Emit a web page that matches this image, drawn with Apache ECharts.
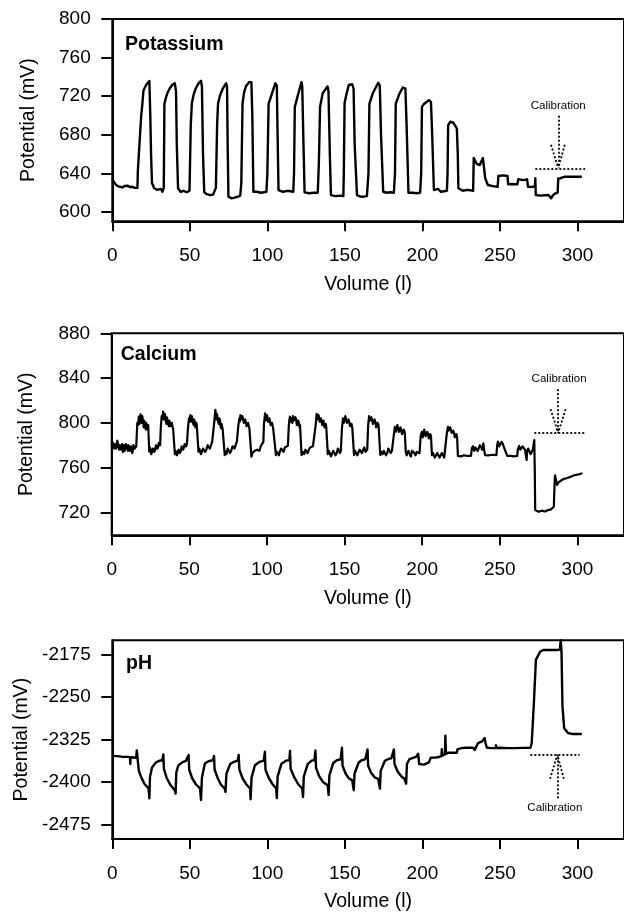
<!DOCTYPE html>
<html>
<head>
<meta charset="utf-8">
<script src="https://cdn.jsdelivr.net/npm/echarts@6/dist/echarts.min.js"></script>
<style>
html,body{margin:0;padding:0;background:#fff;}
#chart{width:624px;height:913px;}
</style>
</head>
<body>
<div id="chart"></div>
<script>
// ---------------- DATA ----------------
const xTickValues = [0, 50, 100, 150, 200, 250, 300];
const potassiumTicks = [600, 640, 680, 720, 760, 800];
const calciumTicks = [720, 760, 800, 840, 880];
const phTicks = [-2475, -2400, -2325, -2250, -2175];

const panelNames = ['Potassium', 'Calcium', 'pH'];
const axisTitleX = 'Volume (l)';
const axisTitleY = 'Potential (mV)';
const calibrationText = 'Calibration';

// Potassium trace [volume, potential]
const potassiumData = [
[0,635],[1,631],[2.5,628],[4,626.5],[5,627.5],[6.5,625.5],[7.8,627],[9,626],[10,627.2],[11.5,625.8],[13,626.2],[14.3,625],[15.2,623.5],[16.2,625],
[16.5,643],[17.5,670],[18.6,699],[19.4,712],[20.1,726],[21.8,731.6],[23,733],[23.9,735.8],[24.3,734],[24.5,700],[25,660],[25.6,630],[27,624.6],[29,623],[31.3,624],[32.3,621],
[33.2,625],[33.6,712],[34.5,718],[35.5,723],[37,728],[38.6,731.6],[40.3,733.4],[41.1,725],[41.6,670],[42.4,624.6],[44,621],[46,622],[48,620.5],[49.2,621],
[49.8,622],[50.6,690],[51.3,712.6],[52.5,722],[53.8,728],[55.5,733],[57.2,736],[57.8,730],[58.5,660],[59.3,620.4],[61,618.5],[63,617.6],[65,618],[66.1,617.6],
[66.8,625],[67.6,690],[68.2,712.6],[69.5,721],[71.3,728],[73.4,733.4],[74,730],[74.4,670],[74.9,615.9],[77,614.2],[79,615],[81,616],[82.5,617],
[83.2,630],[84,712.6],[85,724],[86.1,730],[88.2,734.6],[89.7,734.6],[90.3,700],[91,621],[93,621],[96,620],[99.4,621],
[100,640],[100.8,712],[103,723],[105.1,733.4],[106.1,731],[106.6,680],[107.2,622.8],[110,621],[113,622],[116.7,621],
[117.2,640],[117.7,709],[119.5,720],[122,734.6],[122.5,730],[123.3,670],[124,620.4],[127,619.5],[130,620],[132.5,620],
[133.2,650],[134,709],[135.7,723],[138.8,730],[139.4,726],[140.3,660],[141,617.6],[144,616.5],[147,617],[149,616.5],
[149.3,640],[149.8,712.6],[151,722],[152.5,731.6],[154.7,732.5],[155.6,728],[156.3,670],[157.8,617.6],[160,616],[162,615.9],[164.2,616.5],
[165.2,640],[165.8,712],[168,723],[171.5,734],[172.5,731],[173.3,680],[174.7,621],[177,620],[179,620.5],[181.6,620],
[182.3,640],[182.8,712],[185,722],[187.3,729],[189,728.2],[189.8,690],[191,620],[194,620],[196,619.5],[198.5,620],
[199.2,640],[199.7,709],[201,712],[204.2,716],[205.5,714],[206.3,680],[207.4,622.8],[210,624],[212,621],[215.8,622],
[216.2,640],[216.6,690],[218,693.6],[220,692.5],[222.2,686.7],[222.8,660],[223.2,624.6],[226,622.1],[229,623],[232.7,622],
[233.1,656],[235,650],[237,648.7],[238,649],[239,656],[239.5,649],[240.5,635],[242.2,628],[245,627],[248.5,626],
[249,637.3],[252,638],[254.9,637.3],[255.3,628.7],[258,629],[261.2,628.7],[261.8,634],[265,633],[267.5,633.9],[268.1,626.2],[271,626],[272.6,627],
[272.8,635],[273.1,617.6],[276,617],[281.3,617.6],[283,614.2],[284,617],[285.4,619],[287.2,620],[287.6,634.9],[289,635],[291.8,636.6],[296,636.6],[302.8,636.6]
];

// Calcium trace [volume, potential]
const calciumData = [
[0,780],[0.5,783],[0.8,784],[1.2,779],[1.6,777],[2,781],[2.4,782],[2.8,777],[3.2,778],[3.6,784],[4,783],[4.4,778],[4.8,776],[5.2,780],[5.6,781],[6,776],[6.4,779],[6.8,781],[7.2,774],[7.6,778],[8,780],[8.4,775],[8.8,776],[9.2,781],[9.6,782],[10,777],[10.4,775],[10.8,780],[11.2,779],[11.6,775],[12,774],[12.4,779],[12.8,778],[13.2,773],[13.6,775],[14,780],[14.4,781],[14.8,777],[15.2,776],[15.8,779],
[16.5,800],[17,798],[17.5,805.5],[17.9,799],[18.2,802],[18.6,807.6],[19,802],[19.3,800],[19.7,806],[20,805],[20.4,799],[20.7,796],[21,802],[21.3,803],[21.7,797],[22,794],[22.3,800],[22.6,799],[22.9,795],[23.2,793.6],[23.5,798],[23.8,797],[24.2,774.2],[24.6,778],[25,776],[25.5,772],[26,773],[26.5,777],[27,778],[27.5,774],[28,776],[28.5,780],[29,781],[29.5,777],[30,779],[30.3,782],[30.6,783],[31.2,780],
[31.6,795],[32.2,806],[32.6,803],[33.1,810],[33.5,805],[33.8,803],[34.2,808],[34.5,806],[34.9,801],[35.3,799],[35.6,805],[36,804],[36.4,799],[36.8,797],[37.1,802],[37.5,801],[37.9,797],[38.3,796],[38.7,800],[39.2,799],[39.6,794],[40,795],[40.7,771.9],[41.1,775],[41.5,774],[42,771],[42.5,773],[43,776],[43.5,777],[44,773],[44.5,775],[45,779],[45.5,779],[46,776],[46.5,778],[47,781],[47.5,782],[48,779],[48.5,781.7],
[49.1,795],[49.8,804],[50.2,801],[50.6,807],[51,803],[51.3,801],[51.6,806],[52,805],[52.4,800],[52.8,798],[53.1,803],[53.5,801],[53.9,796],[54.2,797],[54.5,800],[54.8,798],[55.9,774.2],[56.4,777],[57,776],[57.5,772],[58,773],[58.8,777],[59.5,777],[60.2,774],[61,776],[61.8,780],[62.5,779],[63.2,777],[64,780],[64.7,783],[65.4,782.3],
[66,800],[66.4,806],[66.8,811.5],[67.1,805],[67.5,803],[67.8,808],[68.2,807],[68.6,801],[69,799],[69.4,804],[69.8,802],[70.1,797],[70.5,795],[70.8,799],[71.2,798],[71.5,794],[71.7,793.6],[72.8,771.2],[73.4,774],[74,772],[74.7,777],[75.5,776],[76.2,773],[77,775],[77.8,779],[78.5,779],[79.2,777],[80,781],[80.6,783],[81.2,784.6],
[81.6,798],[82.2,804],[82.5,801],[82.9,807],[83.3,803],[83.8,802],[84.2,806],[84.7,805],[85.1,800],[85.6,799],[86,803],[86.5,802],[86.9,797],[87.4,797],[87.8,800],[88.3,799],[88.7,795],[89.2,795],[90,769.7],[90.7,773],[91.5,772],[92.2,775],[93,774],[93.7,776],[94.5,777],[95.2,775],[96,779],[96.8,781],[97.7,783],
[98.1,800],[98.5,804],[98.8,808.5],[99.2,802],[99.6,803],[100,807],[100.4,806],[100.8,801],[101.2,800],[101.6,804],[102,803],[102.4,798],[102.8,797],[103.2,800],[103.6,799],[104,795],[104.4,796.5],[105.8,771.2],[106.4,774],[107,773],[107.7,771],[108.5,775],[109.2,777],[110,776],[110.7,774],[111.5,778],[112.5,777],[113.5,779.5],
[114.1,798],[114.5,803],[114.8,805.5],[115.3,801],[115.8,804],[116.3,800],[116.8,806],[117.3,802],[117.8,801],[118.3,805],[118.8,803],[119.3,798],[119.8,799],[120.2,802],[120.6,800],[121,796],[121.3,798],[122.3,771.2],[123.1,774],[124,772],[124.8,776],[125.5,775],[126.2,773],[127,776],[127.8,778],[128.5,777],[129.6,779],[130.8,779.5],
[131.4,798],[132,808],[132.4,803],[132.8,802],[133.2,807],[133.6,806],[134,801],[134.4,800],[134.8,804],[135.2,803],[135.6,798],[136,798],[136.4,802],[136.8,801],[137.1,796],[137.5,797],[137.9,799],[138.2,796.5],[139.2,772],[139.8,775],[140.5,772.8],[141.2,770],[142,771],[142.7,775],[143.5,774],[144.2,771],[145,773],[145.7,777],[146.5,776],[147,773],[147.6,775],
[148.3,795],[149,804],[149.5,800],[150,802],[150.5,806],[151,805],[151.5,800],[152,799],[152.5,803],[153,801],[153.5,797],[154,796],[154.5,799],[155,795],[155.6,793.6],[156.1,771.2],[156.8,775],[157.5,774],[158.2,771],[159,772],[159.7,776],[160.5,775],[161.2,773],[162,776],[162.7,778],[163.5,774],[164.6,776],
[165.2,798],[165.8,806.1],[166.3,802],[166.8,801],[167.3,805],[167.8,804],[168.3,799],[168.8,799],[169.3,803],[169.8,801],[170.3,796],[170.8,797],[171.3,800],[171.9,798],[173,771.2],[173.7,774],[174.5,772],[175.2,775],[176,774],[176.7,771],[177.5,773],[178.2,777],[179,776],[179.7,773],[180.5,775],[181.4,776],
[181.8,790],[182.4,796.5],[182.9,792],[183.5,794],[184,798],[184.5,797],[185,792],[185.5,793],[186,796],[186.5,795],[187,790],[187.5,792],[188.1,794],[188.8,791.2],[189.4,774.2],[190,771],[190.5,773],[191.2,775],[192,772],[192.7,770],[193.5,775],[194.2,776],[195,773],[195.7,771],[196.5,774],[197.4,775],[198.3,772.8],
[199,788],[199.8,792],[200.3,787],[200.8,789],[201.3,794],[201.8,793],[202.3,788],[202.8,789],[203.3,792],[203.8,790],[204.3,786],[204.8,787],[205.2,790],[205.7,787.6],[206.3,771],[206.9,773],[207.5,772],[208.2,769],[209,770],[209.7,773],[210.5,773],[211.2,769],[212,770],[212.7,773],[213.5,771.5],[214.2,769],[215,770.4],
[215.8,790],[216.6,796.5],[217,793],[217.5,792],[218,796],[218.5,795],[219,791],[219.5,790],[220,793],[220.5,791],[221,787],[221.5,788],[222,790],[222.5,787.6],[223,770.4],[224,772],[225,770],[226,768.5],[227,771],[228,772],[229,770.4],[230.2,769],[231.4,770.4],
[232,777.2],[232.7,779],[233.5,775],[234.2,778],[235,779],[235.7,775],[236.5,776],[237.2,780],[238,778],[238.7,776],[239.4,781.6],[239.8,777],[240.5,771.2],[241.7,772],[243,771],[244.2,770],[245.5,771.5],[246.7,770],[247.8,771.2],
[248.3,780],[248.8,783.2],[249.6,779],[250.5,780],[251.2,783],[252,781],[253,777],[254.2,778.7],[254.8,770.4],[255.9,771],[257,770.5],[258,769],[259,770],[260.1,771],[261.2,770.4],
[261.6,776],[262.5,779.3],[263.2,776],[264,776],[264.7,779],[265.5,780],[266.2,776],[266.9,777],[267.3,766.8],[267.6,775],[268.3,777],[269,775.4],[269.8,772],[270.5,773],[271.3,776],[272,775.4],
[272.2,784.6],[272.5,760],[272.8,722],[273.8,721],[275,720.5],[276,722],[277,721.5],[278,720],[279,720.8],[280,722],[281,722],[282,721.5],[282.7,722.5],[283.8,723.5],[284.8,725],
[285.4,750.4],[285.6,753],[285.8,752],[286.9,744.4],[288,747],[290,748.9],[291.5,750],[293,750.5],[295,751.5],[296.8,752.5],[298.5,753.4],[301,754],[303.2,754.9]
];

// pH trace [volume, potential]
const phData = [
[0,-2353.6],[3,-2354],[6,-2355],[10.1,-2355.4],[11.4,-2356],[11.6,-2368],[11.8,-2356],[13,-2356],[15.4,-2357],
[15.8,-2344],[16.3,-2358],[17.1,-2379.5],[18.6,-2391],[20.7,-2402.6],[23.4,-2411],[23.9,-2428.4],[24.3,-2391],[25.6,-2374],[28.1,-2365.2],[30.5,-2362],[32.3,-2361.2],
[32.9,-2350.9],[33.3,-2376.7],[35,-2392],[37.5,-2405],[40.3,-2414],[40.8,-2419.8],[41.3,-2382.4],[42.5,-2370.9],[45,-2365],[47.5,-2362.3],
[49.2,-2351.9],[49.6,-2378],[51.5,-2393],[54,-2404],[56.6,-2411],[57.2,-2431.3],[57.8,-2392],[59.7,-2366.9],[62,-2363],[65,-2361],
[65.6,-2353.6],[66,-2378],[68,-2393],[70,-2404],[72.4,-2411],[73,-2417],[73.6,-2385],[76,-2368],[78.5,-2364],[80.8,-2362],
[81.5,-2352],[82,-2378],[84,-2393],[86.5,-2404],[88.9,-2411],[89.2,-2430],[89.8,-2392],[92,-2370],[95,-2364],[97.7,-2362],
[98.4,-2346.2],[98.8,-2378],[101,-2393],[103.5,-2404],[105.7,-2411],[106.1,-2428],[106.6,-2390],[109,-2368],[112,-2362],[114.2,-2361],
[114.6,-2345],[115,-2376],[117.5,-2392],[120,-2404],[122.5,-2411],[123,-2426],[123.5,-2390],[126,-2368],[128.5,-2362],[130.4,-2361],
[131,-2344],[131.4,-2375],[133.5,-2390],[136,-2400],[138.9,-2405.4],[139.5,-2422.6],[140,-2388],[142.5,-2366],[145,-2361],[147.3,-2359.5],
[148.1,-2339.3],[148.5,-2371],[150.5,-2385],[152.5,-2393],[154.7,-2396.7],[155.7,-2414],[156.2,-2385],[158.9,-2365.2],[161,-2361],[163.1,-2359.5],
[164.6,-2342.2],[165,-2371],[167,-2384],[169.5,-2392],[171.5,-2394],[172.6,-2411.2],[173.1,-2380],[175.8,-2362.3],[178,-2359],[180,-2357.8],
[181.6,-2342.2],[182,-2368],[184,-2381],[186.5,-2390],[188.4,-2394],[189.5,-2402.6],[190,-2368],[191.6,-2359.5],[194,-2357],[195.8,-2355.4],
[197.3,-2350],[197.9,-2368],[201,-2369],[204.2,-2365],[205.3,-2357],[207.4,-2356.6],[210,-2356],[212.3,-2354],[212.5,-2342],[212.8,-2353],[214.5,-2351],
[214.8,-2318],[215.2,-2350],[216.9,-2348],[220,-2348],[222.2,-2348],[222.6,-2342],[225,-2340],[228,-2339.3],[232.7,-2339.3],[233.8,-2343],[235.9,-2331],[238.5,-2328],
[240.1,-2322],[240.6,-2330],[241.6,-2339.3],[244,-2340],[247.3,-2340],[247.5,-2335],[247.8,-2340],[250,-2339.3],[255,-2340],[260,-2340],[265,-2339.5],[269.6,-2339.3],
[270.1,-2335],[270.5,-2330],[271.8,-2264.7],[273.2,-2184.1],[276,-2169.8],[278,-2167],[282,-2167],[286,-2167],[288.6,-2166.9],[289.2,-2150],[289.7,-2170],
[290.3,-2265],[291.4,-2304.8],[293.9,-2313.4],[297,-2315],[302.8,-2315]
];

// Calibration annotations (data coordinates): [reference line, shaft, head-left, head-right], label position
const kCalSegments = [[[272.8,645],[304.9,645]], [[287.6,699.8],[287.6,645.5]], [[282.9,669.7],[287.6,645.5]], [[291.8,669.7],[287.6,645.5]]];
const kCalLabel = [287.6, 710];
const caCalSegments = [[[272.2,790.8],[304.5,790.8]], [[287.6,830.1],[287.6,791]], [[282.7,812.2],[287.6,791]], [[292.4,812.2],[287.6,791]]];
const caCalLabel = [288.2, 839];
const phCalSegments = [[[269.6,-2350.9],[301.3,-2350.9]], [[287,-2428.4],[287,-2351.5]], [[282.3,-2394],[287,-2351.5]], [[291.2,-2394],[287,-2351.5]]];
const phCalLabel = [285.4, -2445];

// ---------------- CHART ----------------
const FONT = '"Liberation Sans", Arial, Helvetica, sans-serif';
const chart = echarts.init(document.getElementById('chart'), null, {renderer: 'canvas'});

const panels = [
  {top: 19,    height: 202.3, left: 112.3, min: 590.4,  max: 800,   ticks: potassiumTicks, data: potassiumData, cal: kCalSegments,  calLabel: kCalLabel,  nameGap: 74, titleLeft: 125, titleTop: 35, lw: 2.4},
  {top: 333.3, height: 202,   left: 111.7, min: 699.5,  max: 880,   ticks: calciumTicks,   data: calciumData,   cal: caCalSegments, calLabel: caCalLabel, nameGap: 75, titleLeft: 120.7, titleTop: 345, lw: 2.2},
  {top: 640.3, height: 202.7, left: 112.3, min: -2500,  max: -2150, ticks: phTicks,        data: phData,        cal: phCalSegments, calLabel: phCalLabel, nameGap: 81, titleLeft: 126, titleTop: 654, lw: 2.4}
];

const grids = [], xAxes = [], yAxes = [], series = [], titles = [];
panels.forEach((p, i) => {
  grids.push({left: p.left, top: p.top, width: 523.4, height: p.height, show: true,
    borderColor: '#000', borderWidth: 2, backgroundColor: 'transparent', containLabel: false});
  xAxes.push({type: 'value', gridIndex: i, min: 0, max: 330,
    name: axisTitleX, nameLocation: 'middle', nameGap: 53,
    nameTextStyle: {fontFamily: FONT, fontSize: 19.5, color: '#000'},
    axisLine: {show: true, onZero: false, lineStyle: {color: '#000', width: 2}},
    axisTick: {show: true, length: 10, lineStyle: {color: '#000', width: 2}, customValues: xTickValues},
    axisLabel: {show: true, margin: 25, fontFamily: FONT, fontSize: 19, color: '#000', customValues: xTickValues,
      formatter: v => String(v)},
    splitLine: {show: false}});
  yAxes.push({type: 'value', gridIndex: i, min: p.min, max: p.max,
    name: axisTitleY, nameLocation: 'middle', nameGap: p.nameGap,
    nameTextStyle: {fontFamily: FONT, fontSize: 19.5, color: '#000'},
    axisLine: {show: true, onZero: false, lineStyle: {color: '#000', width: 2}},
    axisTick: {show: true, length: 11, lineStyle: {color: '#000', width: 2}, customValues: p.ticks},
    axisLabel: {show: true, margin: 21.6, fontFamily: FONT, fontSize: 19, color: '#000', customValues: p.ticks,
      formatter: v => String(v)},
    splitLine: {show: false}});
  titles.push({text: panelNames[i], left: p.titleLeft, top: p.titleTop, padding: 0,
    textStyle: {fontFamily: FONT, fontSize: 19.5, fontWeight: 'bold', color: '#000'}});
  series.push({type: 'line', xAxisIndex: i, yAxisIndex: i, data: p.data, showSymbol: false,
    symbol: 'none', clip: true, lineStyle: {color: '#000', width: p.lw, join: 'round'}, silent: true, animation: false});
  series.push({type: 'line', xAxisIndex: i, yAxisIndex: i, data: [], silent: true, animation: false,
    markLine: {silent: true, symbol: ['none', 'none'], animation: false,
      lineStyle: {color: '#000', width: 1.8, type: [2, 2]},
      label: {show: false},
      data: p.cal.map(seg => [{coord: seg[0]}, {coord: seg[1]}])},
    markPoint: {silent: true, animation: false, symbol: 'circle', symbolSize: 0,
      label: {show: true, position: 'inside', formatter: calibrationText, fontFamily: FONT, fontSize: 11.5, color: '#000'},
      data: [{coord: p.calLabel}]}
  });
});

chart.setOption({
  animation: false,
  backgroundColor: '#fff',
  title: titles,
  grid: grids,
  xAxis: xAxes,
  yAxis: yAxes,
  series: series
});
</script>
</body>
</html>
